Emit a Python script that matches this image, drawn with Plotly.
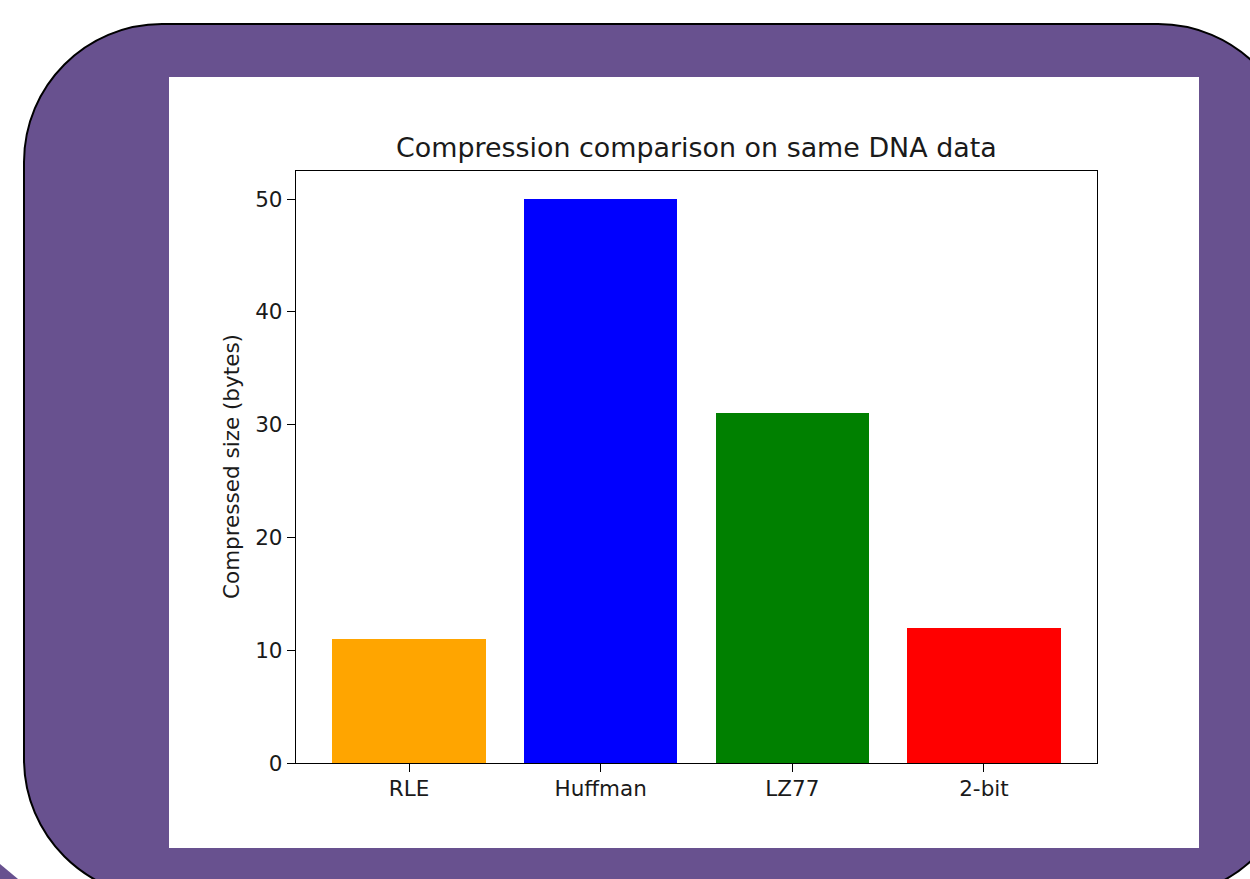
import plotly.graph_objects as go

# ---- data ----
categories = ["RLE", "Huffman", "LZ77", "2-bit"]
sizes = [11, 50, 31, 12]
bar_colors = ["orange", "blue", "green", "red"]
y_ticks = [0, 10, 20, 30, 40, 50]
title_text = "Compression comparison on same DNA data"
ylabel_text = "Compressed size (bytes)"

W, H = 1250, 879


def px(x):
    return x / W


def py(y):
    return 1 - y / H


# plot area in pixels
AX_L, AX_R, AX_T, AX_B = 296, 1097, 171, 763

FONT = "DejaVu Sans"
TICK_SIZE = 21.5
TITLE_SIZE = 26.9

fig = go.Figure()
fig.add_trace(go.Bar(
    x=categories,
    y=sizes,
    width=0.8,
    marker=dict(color=bar_colors, line=dict(width=0)),
    showlegend=False,
    hoverinfo="x+y",
))

# rounded purple panel (cubic bezier approximation of arcs)
L, T, R, B, r = 24, 24, 1296, 897, 138
k = 0.5523 * r


def P(x, y):
    return f"{px(x)},{py(y)}"


path = (
    f"M {P(L + r, T)} L {P(R - r, T)} "
    f"C {P(R - r + k, T)} {P(R, T + r - k)} {P(R, T + r)} "
    f"L {P(R, B - r)} "
    f"C {P(R, B - r + k)} {P(R - r + k, B)} {P(R - r, B)} "
    f"L {P(L + r, B)} "
    f"C {P(L + r - k, B)} {P(L, B - r + k)} {P(L, B - r)} "
    f"L {P(L, T + r)} "
    f"C {P(L, T + r - k)} {P(L + r - k, T)} {P(L + r, T)} Z"
)

shapes = [
    dict(type="path", path=path, xref="paper", yref="paper",
         fillcolor="#68518F", line=dict(color="black", width=2), layer="below"),
    dict(type="path",
         path=f"M {P(0, 864)} L {P(18, 879)} L {P(0, 879)} Z",
         xref="paper", yref="paper",
         fillcolor="#68518F", line=dict(width=0), layer="below"),
    dict(type="rect", xref="paper", yref="paper",
         x0=px(169), x1=px(1199), y0=py(848), y1=py(77),
         fillcolor="white", line=dict(width=0), layer="below"),
]

fig.update_layout(
    width=W, height=H,
    margin=dict(l=0, r=0, t=0, b=0, pad=0),
    paper_bgcolor="white",
    plot_bgcolor="white",
    shapes=shapes,
    font=dict(family=FONT, color="black", size=TICK_SIZE),
    bargap=0,
    xaxis=dict(
        domain=[px(AX_L), px(AX_R)],
        type="category",
        range=[-0.59, 3.59],
        showline=True, mirror=True, linecolor="black", linewidth=1.3,
        ticks="outside", ticklen=8, tickwidth=1.3, tickcolor="black",
        showgrid=False, zeroline=False,
        tickfont=dict(family=FONT, size=TICK_SIZE, color="#1a1a1a"),
        ticklabelstandoff=-2,
        automargin=False, fixedrange=True,
    ),
    yaxis=dict(
        domain=[py(AX_B), py(AX_T)],
        range=[0, 52.5],
        tickvals=y_ticks,
        showline=True, mirror=True, linecolor="black", linewidth=1.3,
        ticks="outside", ticklen=8, tickwidth=1.3, tickcolor="black",
        showgrid=False, zeroline=False,
        tickfont=dict(family=FONT, size=TICK_SIZE, color="#1a1a1a"),
        automargin=False, fixedrange=True,
    ),
    annotations=[
        dict(text=title_text, xref="paper", yref="paper",
             x=px((AX_L + AX_R) / 2), y=py(147), xanchor="center", yanchor="middle",
             showarrow=False, font=dict(family=FONT, size=TITLE_SIZE, color="#1a1a1a")),
        dict(text=ylabel_text, xref="paper", yref="paper",
             x=px(231), y=py((AX_T + AX_B) / 2), xanchor="center", yanchor="middle",
             textangle=-90,
             showarrow=False, font=dict(family=FONT, size=TICK_SIZE, color="#1a1a1a")),
    ],
)

fig.write_html(
    "out.html",
    config={"displayModeBar": False},
    post_script="document.body.style.margin='0';document.body.style.overflow='hidden';",
)
